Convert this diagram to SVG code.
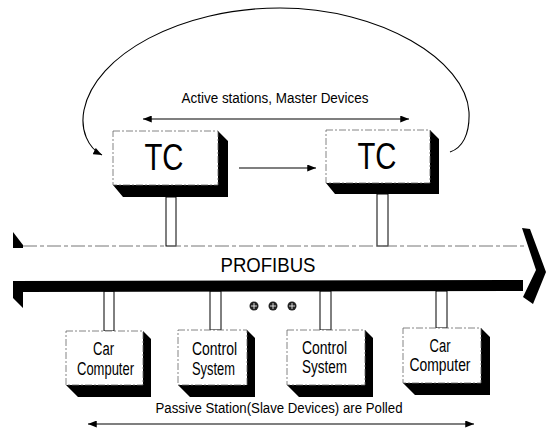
<svg xmlns="http://www.w3.org/2000/svg" width="556" height="436" viewBox="0 0 556 436">
<defs>
<marker id="ah" viewBox="0 0 10 8" refX="10" refY="4" markerWidth="9" markerHeight="7" markerUnits="userSpaceOnUse" orient="auto-start-reverse">
<path d="M0,0 L10,4 L0,8 z" fill="#000"/>
</marker>
<style>
.face{fill:#fff;stroke:#666;stroke-width:0.8;stroke-dasharray:7 2 2 2}
.shadow{fill:#000}
.stem{fill:#fff;stroke:#000;stroke-width:1}
.line{fill:none;stroke:#000;stroke-width:1.1}
.t{font-family:"Liberation Sans Narrow","Liberation Sans",Arial,sans-serif;fill:#000;text-anchor:middle}
.dot{fill:#222}
.dl{stroke:#fff;stroke-width:0.8}
</style>
</defs>
<rect width="556" height="436" fill="#fff"/>

<g id="connectors">
<path class="line" d="M450,152 C462,148 470,135 469,112 C466,60 380,8 280,8 C180,8 95,55 84,110 C80,130 88,148 102,155" marker-end="url(#ah)"/>
<line class="line" x1="143" y1="119" x2="409" y2="119" marker-start="url(#ah)" marker-end="url(#ah)"/>
<line class="line" x1="239" y1="168" x2="316" y2="168" marker-end="url(#ah)"/>
<line class="line" x1="88" y1="424" x2="474" y2="424" marker-start="url(#ah)" marker-end="url(#ah)"/>
<rect class="stem" x="166" y="197" width="10" height="49"/>
<rect class="stem" x="377" y="194" width="11" height="52"/>
<rect class="stem" x="104" y="291" width="10" height="40"/>
<rect class="stem" x="210" y="291" width="11" height="39"/>
<rect class="stem" x="320" y="291" width="11" height="39"/>
<rect class="stem" x="436" y="291" width="11" height="37"/>
</g>

<g id="label-active">
<text class="t" x="275" y="103" font-size="14" textLength="187" lengthAdjust="spacingAndGlyphs">Active stations, Master Devices</text>
</g>

<g id="tc1">
<polygon class="shadow" points="218,131 228,141 228,197 123,197 113,185 218,185"/>
<rect class="face" x="113" y="131" width="105" height="54"/>
<text class="t" x="164" y="170" font-size="37" textLength="39" lengthAdjust="spacingAndGlyphs">TC</text>
</g>

<g id="tc2">
<polygon class="shadow" points="430,130 439,139 439,194 335,194 326,183 430,183"/>
<rect class="face" x="326" y="130" width="104" height="53"/>
<text class="t" x="377" y="169" font-size="37" textLength="39" lengthAdjust="spacingAndGlyphs">TC</text>
</g>

<g id="profibus">
<line x1="23" y1="246" x2="527" y2="246" stroke="#777" stroke-width="1" stroke-dasharray="14 3 4 3"/>
<polygon class="shadow" points="13,232 23,245 23,248 13,248"/>
<polygon class="shadow" points="13,281 523,280 523,291 23,292 23,308 13,298"/>
<polygon class="shadow" points="522,228 530,229 546,272 533,304 523,297 536,270"/>
<text class="t" x="268" y="272" font-size="21" textLength="95" lengthAdjust="spacingAndGlyphs">PROFIBUS</text>
</g>

<g id="dots">
<circle class="dot" cx="254" cy="306" r="4.5"/>
<circle class="dot" cx="273" cy="306" r="4.5"/>
<circle class="dot" cx="292" cy="306" r="4.5"/>
<path class="dl" d="M251,306 h6 M254,303 v6 M270,306 h6 M273,303 v6 M289,306 h6 M292,303 v6"/>
</g>

<g id="car1">
<polygon class="shadow" points="143,331 151,339 151,397 78,397 66,385 143,385"/>
<rect class="face" x="66" y="331" width="77" height="54"/>
<text class="t" x="103.5" y="355" font-size="18" textLength="21" lengthAdjust="spacingAndGlyphs">Car</text>
<text class="t" x="105.5" y="375" font-size="18" textLength="57" lengthAdjust="spacingAndGlyphs">Computer</text>
</g>

<g id="ctrl1">
<polygon class="shadow" points="247,330 255,338 255,397 190,397 178,385 247,385"/>
<rect class="face" x="178" y="330" width="69" height="55"/>
<text class="t" x="214.5" y="355" font-size="18" textLength="45" lengthAdjust="spacingAndGlyphs">Control</text>
<text class="t" x="213.5" y="375" font-size="18" textLength="43" lengthAdjust="spacingAndGlyphs">System</text>
</g>

<g id="ctrl2">
<polygon class="shadow" points="365,330 373,338 373,397 299,397 287,385 365,385"/>
<rect class="face" x="287" y="330" width="78" height="55"/>
<text class="t" x="324.5" y="354" font-size="18" textLength="45" lengthAdjust="spacingAndGlyphs">Control</text>
<text class="t" x="324.5" y="373" font-size="18" textLength="45" lengthAdjust="spacingAndGlyphs">System</text>
</g>

<g id="car2">
<polygon class="shadow" points="481,328 490,337 490,395 415,395 403,383 481,383"/>
<rect class="face" x="403" y="328" width="78" height="55"/>
<text class="t" x="440" y="352" font-size="18" textLength="21" lengthAdjust="spacingAndGlyphs">Car</text>
<text class="t" x="440" y="371" font-size="18" textLength="61" lengthAdjust="spacingAndGlyphs">Computer</text>
</g>

<g id="label-passive">
<text class="t" x="279" y="413" font-size="14" textLength="247" lengthAdjust="spacingAndGlyphs">Passive Station(Slave Devices) are Polled</text>
</g>
</svg>
